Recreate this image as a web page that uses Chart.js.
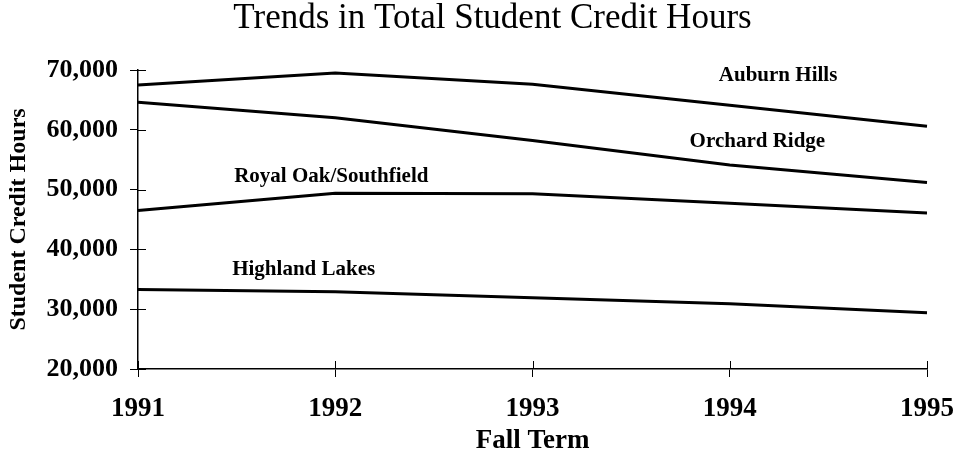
<!DOCTYPE html>
<html>
<head>
<meta charset="utf-8">
<script src="https://cdn.jsdelivr.net/npm/chart.js@4"></script>
<style>
  html, body { margin: 0; padding: 0; background: #fff; }
  #wrap { width: 956px; height: 457px; }
</style>
</head>
<body>
<div id="wrap"><canvas id="creditChart" width="956" height="457"></canvas></div>
<script>
const chartTitle = 'Trends in Total Student Credit Hours';
const years = ['1991', '1992', '1993', '1994', '1995'];
const auburnHills = [67500, 69500, 67600, 64100, 60600];
const orchardRidge = [64600, 62000, 58200, 54100, 51200];
const royalOak = [46500, 49400, 49300, 47700, 46100];
const highlandLakes = [33300, 32900, 31900, 30900, 29400];
const yTicks = [20000, 30000, 40000, 50000, 60000, 70000];

const serif = '"Liberation Serif", "Times New Roman", serif';

// campus names sit beside their lines: [text, x index, y value]
const lineLabels = [
  ['Auburn Hills', 3.245, 69000],
  ['Orchard Ridge', 3.14, 58100],
  ['Royal Oak/Southfield', 0.98, 52100],
  ['Highland Lakes', 0.84, 36550]
];

const inlineLabels = {
  id: 'inlineLabels',
  afterDraw(chart) {
    const { ctx, chartArea, scales } = chart;
    ctx.save();
    // tick marks also cross into the plot area
    ctx.strokeStyle = '#000';
    ctx.lineWidth = 1;
    scales.y.ticks.forEach((t, i) => {
      const y = Math.round(scales.y.getPixelForTick(i)) + 0.5;
      ctx.beginPath();
      ctx.moveTo(chartArea.left, y);
      ctx.lineTo(chartArea.left + 8, y);
      ctx.stroke();
    });
    scales.x.ticks.forEach((t, i) => {
      const x = Math.round(scales.x.getPixelForTick(i)) + 0.5;
      ctx.beginPath();
      ctx.moveTo(x, chartArea.bottom);
      ctx.lineTo(x, chartArea.bottom - 8);
      ctx.stroke();
    });

    ctx.fillStyle = '#000';
    ctx.textAlign = 'center';
    ctx.textBaseline = 'middle';

    // title sits a little left of the plot centre, as in the original
    ctx.font = '35px ' + serif;
    ctx.fillText(chartTitle, (chartArea.left + chartArea.right) / 2 - 40, 19);

    ctx.font = 'bold 21px ' + serif;
    lineLabels.forEach(([text, xi, yv]) => {
      ctx.fillText(text, scales.x.getPixelForValue(xi), scales.y.getPixelForValue(yv));
    });
    ctx.restore();
  }
};

const ds = (label, data) => ({
  label,
  data,
  borderColor: '#000',
  borderWidth: 3,
  pointRadius: 0,
  tension: 0,
  fill: false
});

const ctx = document.getElementById('creditChart').getContext('2d');
const creditChart = new Chart(ctx, {
  type: 'line',
  data: {
    labels: years,
    datasets: [
      ds('Auburn Hills', auburnHills),
      ds('Orchard Ridge', orchardRidge),
      ds('Royal Oak/Southfield', royalOak),
      ds('Highland Lakes', highlandLakes)
    ]
  },
  options: {
    responsive: false,
    animation: false,
    layout: { padding: { left: 0, right: 29, top: 70, bottom: 0 } },
    plugins: {
      legend: { display: false },
      tooltip: { enabled: false },
      title: { display: false }
    },
    scales: {
      x: {
        type: 'category',
        offset: false,
        border: { display: true, color: '#000', width: 1.5 },
        grid: { display: true, drawOnChartArea: false, color: '#000', tickLength: 8, tickWidth: 1 },
        ticks: {
          color: '#000',
          font: { family: serif, size: 27, weight: 'bold' },
          padding: 16,
          maxRotation: 0
        },
        title: {
          display: true,
          text: 'Fall Term',
          color: '#000',
          font: { family: serif, size: 27, weight: 'bold' },
          padding: { top: 0, bottom: 0 }
        },
        afterFit(scale) {
          scale.height = 88;
          scale.paddingLeft = 0;
          scale.paddingRight = 0;
        }
      },
      y: {
        min: 20000,
        max: 70000,
        afterBuildTicks(scale) { scale.ticks = yTicks.map(v => ({ value: v })); },
        border: { display: true, color: '#000', width: 1.5 },
        grid: { display: true, drawOnChartArea: false, color: '#000', tickLength: 8, tickWidth: 1 },
        ticks: {
          color: '#000',
          font: { family: serif, size: 26, weight: 'bold' },
          padding: 12,
          callback: v => v.toLocaleString('en-US')
        },
        title: {
          display: true,
          text: 'Student Credit Hours',
          color: '#000',
          font: { family: serif, size: 24, weight: 'bold' },
          padding: { top: 4, bottom: 0 }
        },
        afterFit(scale) {
          scale.width = 138;
          scale.paddingTop = 0;
          scale.paddingBottom = 0;
        }
      }
    }
  },
  plugins: [inlineLabels]
});
</script>
</body>
</html>
